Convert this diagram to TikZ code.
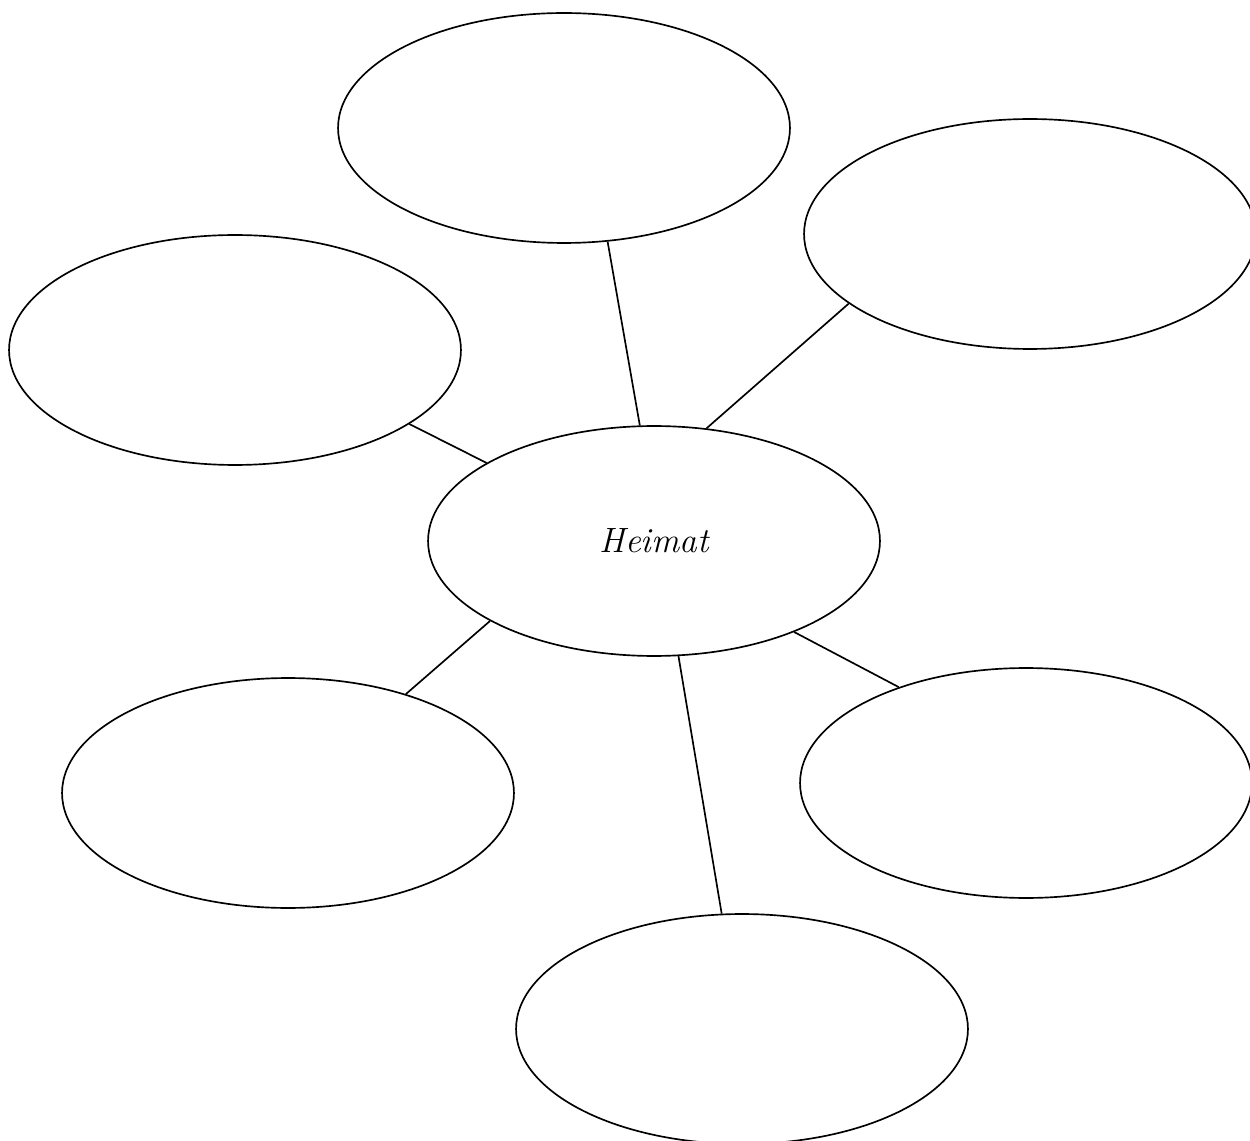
\documentclass[tikz,border=0pt]{standalone}
\usepackage{tikz}
\usetikzlibrary{shapes.geometric}
\tikzset{blob/.style={draw=black,ellipse,minimum width=9.04cm,minimum height=4.6cm,line width=0.95pt,inner sep=0pt},link/.style={draw=black,line width=0.95pt}}

\begin{document}
\begin{tikzpicture}[x=0.02cm,y=-0.02cm,font=\fontsize{20}{24}\selectfont\itshape]
\useasboundingbox (0,0) rectangle (1250,1141);
\node[blob] (heimat) at (654,541) {\raisebox{-0.15cm}{Heimat}};
\node[blob] (oben) at (564,128) {};
\node[blob] (obenrechts) at (1030,234) {};
\node[blob] (links) at (235,350) {};
\node[blob] (untenlinks) at (288,793) {};
\node[blob] (untenrechts) at (1026,783) {};
\node[blob] (unten) at (742,1029) {};
\draw[link] (heimat.97)--(oben.291);\draw[link] (heimat.65)--(obenrechts.201);
\draw[link] (heimat.155)--(links.337);\draw[link] (heimat.206)--(untenlinks.40);
\draw[link] (heimat.282)--(unten.100);\draw[link] (heimat.327)--(untenrechts.143);
\end{tikzpicture}
\end{document}
